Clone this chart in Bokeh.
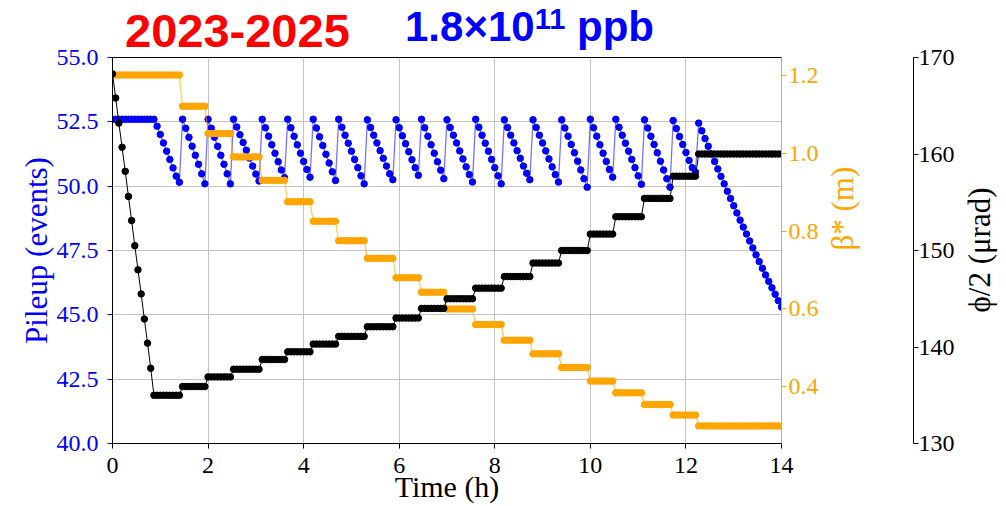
import math
from bokeh.plotting import figure
from bokeh.layouts import column
from bokeh.models import Range1d, LinearAxis, FixedTicker, PrintfTickFormatter, Div
from bokeh.embed import file_html
from bokeh.resources import INLINE

# ---------------- data ----------------
sample_hours = 4 / 60  # one sample every 4 minutes

# Pileup (events), one list per levelling step
pileup_segments = [
    [52.60, 52.60, 52.60, 52.60, 52.60, 52.60, 52.60, 52.60, 52.60, 52.60, 52.60, 52.60, 52.60, 52.60,
     52.33, 52.01, 51.68, 51.36, 51.04, 50.71, 50.39, 50.15],
    [52.60, 52.25, 51.90, 51.55, 51.20, 50.85, 50.48, 50.09],
    [52.60, 52.25, 51.90, 51.55, 51.20, 50.85, 50.48, 50.09],
    [52.60, 52.30, 52.00, 51.70, 51.40, 51.09, 50.78, 50.47, 50.20],
    [52.60, 52.27, 51.94, 51.61, 51.28, 50.95, 50.63, 50.33],
    [52.60, 52.27, 51.94, 51.61, 51.28, 50.96, 50.65, 50.35],
    [52.60, 52.26, 51.92, 51.58, 51.24, 50.90, 50.56, 50.22],
    [52.60, 52.29, 51.98, 51.67, 51.36, 51.04, 50.72, 50.40, 50.09],
    [52.58, 52.28, 51.98, 51.68, 51.38, 51.08, 50.78, 50.48, 50.25],
    [52.58, 52.27, 51.96, 51.65, 51.34, 51.03, 50.72, 50.42],
    [52.60, 52.27, 51.94, 51.61, 51.28, 50.95, 50.62, 50.29],
    [52.58, 52.28, 51.98, 51.68, 51.37, 51.06, 50.75, 50.45, 50.16],
    [52.60, 52.29, 51.98, 51.67, 51.36, 51.04, 50.72, 50.40, 50.09],
    [52.58, 52.28, 51.98, 51.68, 51.38, 51.08, 50.78, 50.50, 50.25],
    [52.58, 52.28, 51.98, 51.68, 51.37, 51.06, 50.75, 50.45, 50.16],
    [52.58, 52.26, 51.94, 51.62, 51.30, 50.97, 50.63, 50.29, 49.96],
    [52.60, 52.27, 51.94, 51.61, 51.28, 50.96, 50.65, 50.35],
    [52.60, 52.29, 51.98, 51.67, 51.36, 51.04, 50.72, 50.40, 50.07],
    [52.58, 52.26, 51.94, 51.62, 51.30, 50.97, 50.63, 50.29, 49.96],
    [52.55, 52.24, 51.93, 51.62, 51.31, 51.00, 50.72, 50.55],
    [52.45, 52.15, 51.85, 51.55, 51.25, 50.96, 50.67, 50.38, 50.09, 49.80, 49.52, 49.24, 48.96, 48.68,
     48.41, 48.14, 47.87, 47.60, 47.33, 47.07, 46.81, 46.55, 46.30, 46.05, 45.80, 45.55, 45.30],
]

# half crossing angle (urad): initial ramp, then one level per step
phi_ramp = [168.3, 165.8, 163.2, 160.7, 158.2, 155.6, 153.1, 150.5, 148.0, 145.5, 142.9, 140.4, 137.8, 135.0]
phi_levels = [135.0, 135.9, 136.9, 137.7, 138.7, 139.5, 140.3, 141.1, 142.1, 143.0, 144.0,
              145.0, 146.1, 147.3, 148.7, 150.0, 151.7, 153.5, 155.4, 157.7, 160.0]

# beta* (m): one level per step
beta_levels = [1.20, 1.12, 1.05, 0.99, 0.93, 0.875, 0.825, 0.775, 0.73, 0.68, 0.643,
               0.60, 0.56, 0.52, 0.485, 0.45, 0.415, 0.385, 0.355, 0.328, 0.30]

time_ticks = [0, 2, 4, 6, 8, 10, 12, 14]
pileup_ticks = [40.0, 42.5, 45.0, 47.5, 50.0, 52.5, 55.0]
beta_ticks = [0.4, 0.6, 0.8, 1.0, 1.2]
phi_ticks = [130, 140, 150, 160, 170]

title_left = "2023-2025"
title_right_base = "1.8×10"
title_right_exp = "11"
title_right_unit = " ppb"
phi_axis_title = "ϕ/2 (μrad)"

# ---------------- assemble series ----------------
pileup = []
phi = []
beta = []
for k, seg in enumerate(pileup_segments):
    n = len(seg)
    pileup.extend(seg)
    beta.extend([beta_levels[k]] * n)
    if k == 0:
        phi.extend(phi_ramp + [phi_levels[0]] * (n - len(phi_ramp)))
    else:
        phi.extend([phi_levels[k]] * n)
time_h = [i * sample_hours for i in range(len(pileup))]

# ---------------- layout constants ----------------
W = 1006
TOP_H = 49
OVERLAP = 9
MAIN_H = 506 - TOP_H + OVERLAP
SERIF = "Liberation Serif"
TICK_FS = "24px"
LABEL_FS = "31px"

# ---------------- HTML text layer (titles + far-right axis title) ----------------
span_common = ("position:absolute;display:block;white-space:nowrap;line-height:0.7;"
               "font-family:'Liberation Sans',Arial,sans-serif;font-weight:bold;")
title_html = (
    f'<div style="position:relative;width:{W}px;height:{TOP_H}px;overflow:visible;">'
    f'<span style="{span_common}left:125px;top:15.3px;font-size:47px;color:#ff0000;">{title_left}</span>'
    f'<span style="{span_common}left:405px;top:11.7px;font-size:42px;color:#0000ff;">{title_right_base}'
    f'<span style="font-size:29px;position:relative;top:-12px;">{title_right_exp}</span>{title_right_unit}</span>'
    f'<span style="position:absolute;display:block;white-space:nowrap;line-height:1;left:979px;top:250px;'
    f'transform:translate(-50%,-50%) rotate(-90deg);font-family:\'Liberation Serif\',serif;'
    f'font-size:31px;color:#000000;z-index:5;">{phi_axis_title}</span>'
    '</div>'
)
top = Div(text=title_html, width=W, height=TOP_H, margin=0, styles={"overflow": "visible", "z-index": "5"})

# ---------------- main figure ----------------
p = figure(width=W, height=MAIN_H, x_range=Range1d(0, 14), y_range=Range1d(40, 55),
           output_backend="svg", toolbar_location=None,
           min_border_left=112, min_border_right=W - 781,
           min_border_top=57 - (TOP_H - OVERLAP), min_border_bottom=63)
p.margin = (-OVERLAP, 0, 0, 0)
p.extra_y_ranges = {"beta": Range1d(0.255, 1.245), "phi": Range1d(130, 170)}
p.background_fill_color = "white"
p.border_fill_color = None
p.outline_line_color = "black"
p.outline_line_width = 1

# grid
p.xgrid.ticker = FixedTicker(ticks=time_ticks)
p.ygrid.ticker = FixedTicker(ticks=pileup_ticks)
for g in (p.xgrid[0], p.ygrid[0]):
    g.grid_line_color = "#c4c4c4"
    g.grid_line_width = 1

# bottom axis
xa = p.xaxis[0]
xa.ticker = FixedTicker(ticks=time_ticks)
xa.axis_line_color = "black"
xa.major_tick_line_color = "black"
xa.major_tick_out = 5
xa.major_tick_in = 0
xa.minor_tick_line_color = None
xa.major_label_text_font = SERIF
xa.major_label_text_font_size = TICK_FS
xa.major_label_text_color = "black"
xa.major_label_standoff = 9
xa.axis_label = "Time (h)"
xa.axis_label_text_font = SERIF
xa.axis_label_text_font_size = "30px"
xa.axis_label_text_font_style = "normal"
xa.axis_label_text_color = "black"
xa.axis_label_standoff = -6

# left axis
ya = p.yaxis[0]
ya.ticker = FixedTicker(ticks=pileup_ticks)
ya.formatter = PrintfTickFormatter(format="%.1f")
ya.axis_line_color = "black"
ya.major_tick_line_color = "blue"
ya.major_tick_out = 5
ya.major_tick_in = 0
ya.minor_tick_line_color = None
ya.major_label_text_font = SERIF
ya.major_label_text_font_size = TICK_FS
ya.major_label_text_color = "blue"
ya.major_label_standoff = 9
ya.axis_label = "Pileup (events)"
ya.axis_label_text_font = SERIF
ya.axis_label_text_font_size = LABEL_FS
ya.axis_label_text_font_style = "normal"
ya.axis_label_text_color = "blue"
ya.axis_label_standoff = 0

# right orange axis (beta*)
ob = LinearAxis(y_range_name="beta", ticker=FixedTicker(ticks=beta_ticks),
                formatter=PrintfTickFormatter(format="%.1f"))
ob.axis_line_color = "orange"
ob.major_tick_line_color = "orange"
ob.major_tick_out = 5
ob.major_tick_in = 0
ob.minor_tick_line_color = None
ob.major_label_text_font = SERIF
ob.major_label_text_font_size = TICK_FS
ob.major_label_text_color = "orange"
ob.major_label_standoff = 2
ob.axis_label = "β* (m)"
ob.axis_label_text_font = SERIF
ob.axis_label_text_font_size = LABEL_FS
ob.axis_label_text_font_style = "normal"
ob.axis_label_text_color = "orange"
ob.axis_label_standoff = 21
ob.axis_label_orientation = math.pi / 2
p.add_layout(ob, "right")

# invisible spacer axis between the two right axes (a white tick sets its width)
sp = LinearAxis(y_range_name="phi", ticker=FixedTicker(ticks=[150]))
sp.major_label_overrides = {150: "0"}
sp.major_label_text_color = None
sp.major_label_text_font = SERIF
sp.major_label_text_font_size = TICK_FS
sp.axis_line_color = None
sp.major_tick_line_color = "white"
sp.minor_tick_line_color = None
sp.major_tick_out = 33
sp.major_tick_in = 0
sp.major_label_standoff = 0
p.add_layout(sp, "right")

# far right black axis (phi/2); its title is drawn in the HTML layer
pa = LinearAxis(y_range_name="phi", ticker=FixedTicker(ticks=phi_ticks),
                formatter=PrintfTickFormatter(format="%d"))
pa.axis_line_color = "black"
pa.major_tick_line_color = "black"
pa.major_tick_out = 5
pa.major_tick_in = 0
pa.minor_tick_line_color = None
pa.major_label_text_font = SERIF
pa.major_label_text_font_size = TICK_FS
pa.major_label_text_color = "black"
pa.major_label_standoff = 0
p.add_layout(pa, "right")

# ---------------- series ----------------
p.line(time_h, pileup, line_color="blue", line_alpha=0.55, line_width=1.3)
p.scatter(time_h, pileup, size=6.5, fill_color="blue", line_color="blue")

p.line(time_h, beta, y_range_name="beta", line_color="orange", line_alpha=0.6, line_width=1.3)
p.scatter(time_h, beta, y_range_name="beta", size=6.5, fill_color="orange", line_color="orange")

p.line(time_h, phi, y_range_name="phi", line_color="black", line_width=1)
p.scatter(time_h, phi, y_range_name="phi", size=6.5, fill_color="black", line_color="black")

layout = column(top, p, spacing=0)
open("out.html", "w").write(file_html(layout, INLINE))
